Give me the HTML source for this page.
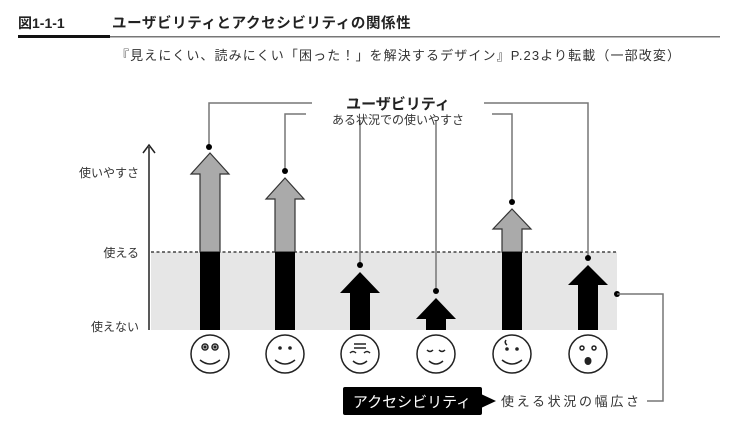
<!DOCTYPE html>
<html><head><meta charset="utf-8"><style>
html,body{margin:0;padding:0;background:#fff;}
svg{display:block;font-family:"Liberation Sans","Noto Sans CJK JP",sans-serif;}
</style></head><body>
<svg width="744" height="442" viewBox="0 0 744 442" xmlns="http://www.w3.org/2000/svg">
<text x="18" y="28" font-size="14" font-weight="bold" fill="#222">図1-1-1</text>
<text x="112" y="28" font-size="14.5" font-weight="bold" fill="#222" letter-spacing="0.6">ユーザビリティとアクセシビリティの関係性</text>
<rect x="18" y="35" width="92" height="3" fill="#111"/>
<rect x="110" y="36" width="610" height="1.5" fill="#777"/>
<text x="116" y="60" font-size="13" fill="#333" textLength="564" lengthAdjust="spacing">『見えにくい、読みにくい「困った！」を解決するデザイン』P.23より転載（一部改変）</text>

<rect x="151" y="252" width="466" height="78" fill="#e6e6e6"/>
<line x1="151" y1="252" x2="617" y2="252" stroke="#222" stroke-width="1.3" stroke-dasharray="3,2.5"/>
<line x1="149" y1="147" x2="149" y2="330" stroke="#222" stroke-width="1.5"/>
<polyline points="143,153 149,145 155,153" fill="none" stroke="#222" stroke-width="1.5"/>
<g font-size="12" fill="#333" text-anchor="end">
<text x="139" y="177">使いやすさ</text>
<text x="139" y="257">使える</text>
<text x="139" y="331">使えない</text>
</g>

<g stroke="#777" stroke-width="1.5" fill="none">
<polyline points="209,147 209,103 312,103"/>
<polyline points="484,103 588,103 588,258"/>
<polyline points="285,171 285,114 306,114"/>
<polyline points="492,114 512,114 512,202"/>
<line x1="360" y1="120" x2="360" y2="265"/>
<line x1="436" y1="120" x2="436" y2="291"/>
</g>
<text x="398" y="109" font-size="15" font-weight="bold" fill="#222" text-anchor="middle">ユーザビリティ</text>
<text x="398" y="124" font-size="12" fill="#333" text-anchor="middle">ある状況での使いやすさ</text>

<g stroke="#333" stroke-width="1.2">
<polygon points="210,153 229,174 220,174 220,252 200,252 200,174 191,174" fill="#aaa"/>
<polygon points="285,178 304,199 295,199 295,252 275,252 275,199 266,199" fill="#aaa"/>
<polygon points="512,209 531,229 522,229 522,252 502,252 502,229 493,229" fill="#aaa"/>
</g>
<g fill="#000">
<rect x="200" y="252" width="20" height="78"/>
<rect x="275" y="252" width="20" height="78"/>
<rect x="502" y="252" width="20" height="78"/>
<polygon points="360,272 380,293 370,293 370,330 350,330 350,293 340,293"/>
<polygon points="436,298 456,319 446,319 446,330 426,330 426,319 416,319"/>
<polygon points="588,265 608,285 598,285 598,330 578,330 578,285 568,285"/>
<circle cx="209" cy="147" r="3"/><circle cx="285" cy="171" r="3"/>
<circle cx="360" cy="265" r="3"/><circle cx="436" cy="291" r="3"/>
<circle cx="512" cy="202" r="3"/><circle cx="588" cy="258" r="3"/>
<circle cx="617" cy="294" r="3"/>
</g>

<g fill="none" stroke="#222" stroke-width="1.5">
<circle cx="210" cy="354" r="19"/><circle cx="285" cy="354" r="19"/>
<circle cx="360" cy="354" r="19"/><circle cx="436" cy="354" r="19"/>
<circle cx="512" cy="354" r="19"/><circle cx="588" cy="354" r="19"/>
<path d="M200,360 Q210,368 220,360"/><path d="M275,360 Q285,368 295,360"/>
<path d="M353,361 Q360,367 367,361"/><path d="M429,361 Q436,367 443,361"/>
<path d="M502,360 Q512,368 522,360"/>
<line x1="354" y1="344" x2="366" y2="344"/><line x1="354" y1="348" x2="366" y2="348"/>
<path d="M350,353 Q353,350 356,353"/><path d="M364,353 Q367,350 370,353"/>
<path d="M427,350 Q430,353 433,350"/><path d="M439,350 Q442,353 445,350"/>
<path d="M507,345 Q504,343 506,340"/>
<circle cx="205" cy="347" r="3"/><circle cx="215" cy="347" r="3"/>
<circle cx="582" cy="348" r="2"/><circle cx="594" cy="348" r="2"/>
</g>
<g fill="#222">
<circle cx="205" cy="347" r="1.6"/><circle cx="215" cy="347" r="1.6"/>
<circle cx="280" cy="348" r="1.8"/><circle cx="290" cy="348" r="1.8"/>
<circle cx="507" cy="349" r="1.8"/><circle cx="517" cy="349" r="1.8"/>
<ellipse cx="588" cy="361" rx="3.5" ry="4"/>
</g>

<rect x="343" y="387" width="139" height="28" rx="2" fill="#000"/>
<polygon points="481,394 496,401 481,408" fill="#000"/>
<text x="412" y="407" font-size="15" fill="#fff" text-anchor="middle">アクセシビリティ</text>
<text x="501" y="406" font-size="13" fill="#333" textLength="138" lengthAdjust="spacing">使える状況の幅広さ</text>
<polyline points="647,401 663,401 663,294 617,294" fill="none" stroke="#777" stroke-width="1.5"/>
</svg>
</body></html>
